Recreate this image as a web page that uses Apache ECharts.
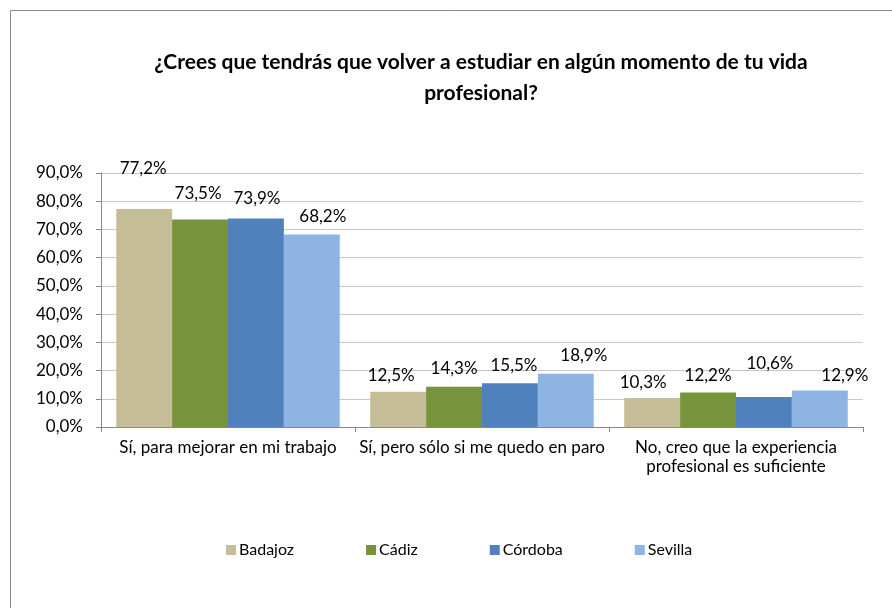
<!DOCTYPE html>
<html>
<head>
<meta charset="utf-8">
<script src="https://cdn.jsdelivr.net/npm/echarts@6/dist/echarts.min.js"></script>
<style>
  html, body { margin: 0; padding: 0; background: #fff; }
  #chart { width: 892px; height: 608px; }
</style>
</head>
<body>
<div id="chart"></div>
<script>
  // categories / series / ticks
  var categories = ['Sí, para mejorar en mi trabajo', 'Sí, pero sólo si me quedo en paro', 'No, creo que la experiencia\nprofesional es suficiente']
  var seriesNames = ['Badajoz', 'Cádiz', 'Córdoba', 'Sevilla']
  var badajoz = [77.2, 12.5, 10.3]
  var cadiz = [73.5, 14.3, 12.2]
  var cordoba = [73.9, 15.5, 10.6]
  var sevilla = [68.2, 18.9, 12.9]
  var colors = ['#C4BD97', '#77933C', '#4F81BD', '#8EB4E3']

  // labels moved by hand in the original, [dx, dy] per bar
  var labelShift = [
    [[-1, -28], [-7, -4], [-9, -3]],
    [[-2, -14], [0, -6], [0, -5]],
    [[1, -7], [4, -5], [6, -21]],
    [[11, -6], [18, -6], [25, -3]]
  ]

  function pct(v) {
    return v.toFixed(1).replace('.', ',') + '%'
  }

  var font = 'Lato, "Noto Sans", sans-serif'
  var allData = [badajoz, cadiz, cordoba, sevilla]

  var series = allData.map(function (vals, i) {
    return {
      name: seriesNames[i],
      type: 'bar',
      barGap: '0%',
      barCategoryGap: '12%',
      itemStyle: { color: colors[i] },
      data: vals.map(function (v, j) {
        return {
          value: v,
          label: { offset: labelShift[i][j] }
        }
      }),
      label: {
        show: true,
        position: 'top',
        distance: 4,
        color: '#000',
        fontSize: 17,
        fontFamily: font,
        formatter: function (p) { return pct(p.value) }
      }
    }
  })

  var mychart = echarts.init(document.getElementById('chart'))
  mychart.setOption({
    animation: false,
    color: colors,
    graphic: [
      {
        type: 'rect',
        shape: { x: 10.5, y: 10.5, width: 1000, height: 1000 },
        style: { fill: 'none', stroke: '#888', lineWidth: 1 },
        silent: true
      },
      {
        type: 'text',
        x: 481,
        y: 47,
        style: {
          text: '¿Crees que tendrás que volver a estudiar en algún momento de tu vida\nprofesional?',
          fontFamily: font,
          fontWeight: 'bold',
          fontSize: 21,
          lineHeight: 31,
          fill: '#000',
          align: 'center',
          verticalAlign: 'top'
        }
      }
    ],
    legend: {
      data: seriesNames,
      left: 226,
      top: 542,
      padding: 0,
      itemWidth: 10,
      itemHeight: 10,
      itemGap: 72,
      icon: 'rect',
      textStyle: { fontSize: 16, fontFamily: font, color: '#000', padding: [0, 0, 0, -2] }
    },
    grid: {
      left: 101,
      right: 29,
      top: 173,
      bottom: 181
    },
    xAxis: {
      type: 'category',
      data: categories,
      axisLine: { lineStyle: { color: '#888' } },
      axisTick: { show: true, length: 5, lineStyle: { color: '#888' } },
      axisLabel: {
        interval: 0,
        margin: 11,
        fontSize: 17,
        lineHeight: 19,
        color: '#000',
        fontFamily: font
      }
    },
    yAxis: {
      type: 'value',
      min: 0,
      max: 90,
      interval: 10,
      axisLine: { show: true, lineStyle: { color: '#888' } },
      axisTick: { show: true, length: 5, lineStyle: { color: '#888' } },
      splitLine: { lineStyle: { color: '#c8c8c8' } },
      axisLabel: {
        margin: 18,
        fontSize: 17,
        color: '#000',
        fontFamily: font,
        formatter: function (v) { return pct(v) }
      }
    },
    series: series
  })
</script>
</body>
</html>
